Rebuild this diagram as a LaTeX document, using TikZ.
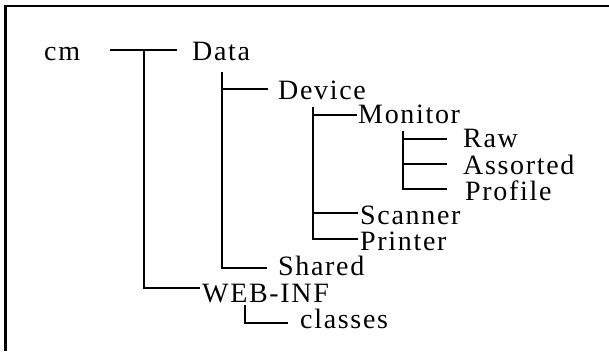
\documentclass[tikz,border=0pt]{standalone}
\usepackage{fontspec}
\setmainfont{Liberation Serif}[LetterSpace=6]
\usetikzlibrary{calc}
\begin{document}
\begin{tikzpicture}[x=1pt,y=-1pt,
  dir/.style={anchor=base west, inner sep=0pt, text height=20pt, text depth=0pt,
              font=\fontsize{28}{30}\selectfont},
  branch/.style={line width=1.1pt, black},
  frameline/.style={line width=2.4pt, black}]
\useasboundingbox (0,0) rectangle (609,351);

% open frame: left and top edges
\draw[frameline] (5.5,351) -- (5.5,6) -- (609,6);

% directory names
\node[dir] (cm)       at (44,60)  {cm};
\node[dir] (data)     at (192,60) {Data};
\node[dir] (device)   at (278,99) {Device};
\node[dir] (monitor)  at (358,123) {Monitor};
\node[dir] (raw)      at (463,147) {Raw};
\node[dir] (assorted) at (463,174) {Assorted};
\node[dir] (profile)  at (465,200) {Profile};
\node[dir] (scanner)  at (360,224) {Scanner};
\node[dir] (printer)  at (360,250) {Printer};
\node[dir] (shared)   at (278,275) {Shared};
\node[dir] (webinf)   at (202,302) {WEB-INF};
\node[dir] (classes)  at (300,328) {classes};

% trunks of each level
\coordinate (t0) at (144,0);
\coordinate (t1) at (222,0);
\coordinate (t2) at (313,0);
\coordinate (t3) at (403,0);
\coordinate (t4) at (245,0);

% attachment levels of the branch lines
\coordinate (lData)     at (data.west);
\coordinate (lWeb)      at ($(webinf.west)+(0,-4)$);
\coordinate (lDevice)   at (device.west);
\coordinate (lShared)   at ($(shared.west)+(0,3)$);
\coordinate (lMonitor)  at ($(monitor.west)+(0,2)$);
\coordinate (lScanner)  at ($(scanner.west)+(0,-1)$);
\coordinate (lPrinter)  at ($(printer.west)+(0,-1)$);
\coordinate (lRaw)      at ($(raw.west)+(0,2)$);
\coordinate (lAssorted) at (assorted.west);
\coordinate (lProfile)  at ($(profile.west)+(0,-1)$);
\coordinate (lClasses)  at ($(classes.west)+(0,5)$);

% cm
\draw[branch] ($(cm.east |- lData)+(30,0)$) -- ($(lData)+(-15,0)$);
\draw[branch] (t0 |- lData) -- (t0 |- lWeb) -- ($(lWeb)+(-2,0)$);

% Data
\draw[branch] ($(t1 |- lDevice)+(0,-17)$) -- (t1 |- lShared) -- ($(lShared)+(-11,0)$);
\draw[branch] (t1 |- lDevice) -- ($(lDevice)+(-10,0)$);

% Device
\draw[branch] ($(t2 |- lMonitor)+(0,-8)$) -- (t2 |- lPrinter) -- ($(lPrinter)+(-2,0)$);
\draw[branch] (t2 |- lMonitor) -- ($(lMonitor)+(-1,0)$);
\draw[branch] (t2 |- lScanner) -- ($(lScanner)+(-2,0)$);

% Monitor
\draw[branch] ($(t3 |- lRaw)+(0,-8)$) -- (t3 |- lProfile) -- ($(lProfile)+(-18,0)$);
\draw[branch] (t3 |- lRaw) -- ($(lRaw)+(-16,0)$);
\draw[branch] (t3 |- lAssorted) -- ($(lAssorted)+(-16,0)$);

% WEB-INF
\draw[branch] ($(t4 |- webinf.south)+(0,3)$) -- (t4 |- lClasses) -- ($(lClasses)+(-12,0)$);
\end{tikzpicture}
\end{document}
